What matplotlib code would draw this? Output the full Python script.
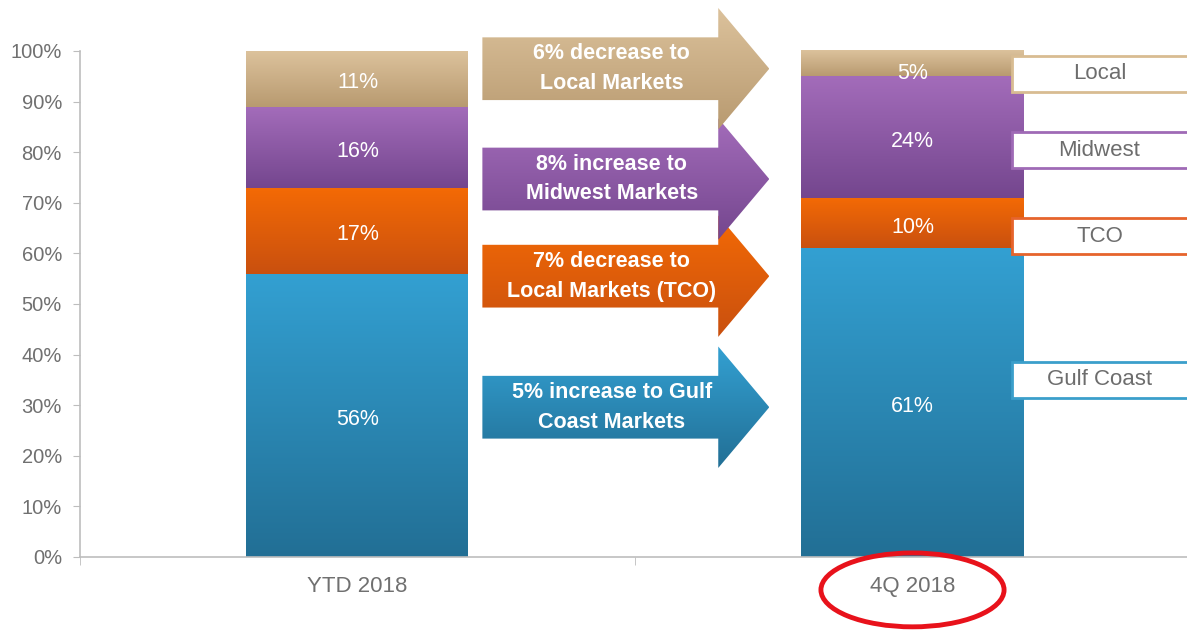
# stacked share chart: YTD 2018 vs 4Q 2018
import numpy as np
import matplotlib
matplotlib.use('Agg')
import matplotlib.pyplot as plt
from matplotlib.patches import Polygon, Rectangle, Ellipse
from matplotlib.colors import LinearSegmentedColormap

plt.rcParams['font.family'] = ['Liberation Sans', 'DejaVu Sans']

# data
periods = ['YTD 2018', '4Q 2018']
regions = ['Gulf Coast', 'TCO', 'Midwest', 'Local']
gulf = [56, 61]
tco = [17, 10]
midwest = [16, 24]
local = [11, 5]
shares = [gulf, tco, midwest, local]

arrow_text = ['5% increase to Gulf\nCoast Markets',
              '7% decrease to\nLocal Markets (TCO)',
              '8% increase to\nMidwest Markets',
              '6% decrease to\nLocal Markets']
arrow_y = [29.6, 55.5, 74.7, 96.5]      # arrow centre heights (%)
legend_y = [35.0, 63.4, 80.4, 95.5]     # label box centre heights (%)

# colours (top, bottom) of each gradient, plus border colour
grad = [('#33a0d2', '#226f95'),
        ('#f46a05', '#c9500f'),
        ('#a36cba', '#74468e'),
        ('#dcc29c', '#b89a70')]
border = ['#3b9fcb', '#e6642c', '#9f6ab6', '#d8bc92']

fig = plt.figure(figsize=(11.87, 6.3), dpi=100)
ax = fig.add_axes([80 / 1187, 1 - 557 / 630, 1110 / 1187, 506 / 630])

x = np.arange(len(periods))
width = 0.4
grad_img = np.linspace(0, 1, 256).reshape(-1, 1)


def fill_gradient(patch, top, bottom, x0, x1, y0, y1, z):
    cmap = LinearSegmentedColormap.from_list('g', [bottom, top])
    im = ax.imshow(grad_img, cmap=cmap, extent=[x0, x1, y0, y1],
                   origin='lower', aspect='auto', zorder=z)
    im.set_clip_path(patch)
    im.set_clip_box(fig.bbox)
    return im


# stacked bars with vertical gradient
bottom = np.zeros(len(periods))
for vals, (ctop, cbot) in zip(shares, grad):
    bars = ax.bar(x, vals, width, bottom=bottom, color=cbot, linewidth=0, zorder=2)
    for b in bars:
        fill_gradient(b, ctop, cbot, b.get_x(), b.get_x() + b.get_width(),
                      b.get_y(), b.get_y() + b.get_height(), 2.5)
    for xi, v, b0 in zip(x, vals, bottom):
        # small segments: the label sits a little low, as in the original
        yl = b0 + v / 2 - (2.0 if v < 8 else 0.8)
        ax.text(xi, yl, f'{v}%', ha='center', va='center',
                color='white', fontsize=15.5, zorder=4)
    bottom += np.array(vals)

# arrows between the bars
x_start, x_base, x_tip = 0.225, 0.65, 0.742
body_h, head_h = 6.2, 12.0
for yc, txt, (ctop, cbot) in zip(arrow_y, arrow_text, grad):
    pts = [(x_start, yc + body_h), (x_base, yc + body_h), (x_base, yc + head_h),
           (x_tip, yc), (x_base, yc - head_h), (x_base, yc - body_h),
           (x_start, yc - body_h)]
    poly = Polygon(pts, closed=True, facecolor='none', edgecolor='none',
                   clip_on=False, zorder=3)
    ax.add_patch(poly)
    fill_gradient(poly, ctop, cbot, x_start, x_tip, yc - head_h, yc + head_h, 3)
    ax.text(0.458, yc, txt, ha='center', va='center', color='white',
            fontsize=15.5, fontweight='bold', linespacing=1.55, zorder=5)

# label boxes on the right
for yc, name, ec in zip(legend_y, regions, border):
    ax.add_patch(Rectangle((1.18, yc - 3.6), 0.36, 7.2, facecolor='white',
                           edgecolor=ec, lw=2, clip_on=False, zorder=3))
    ax.text(1.337, yc, name, ha='center', va='center', color='#6d6d6d',
            fontsize=16, zorder=4)

# red circle around the latest quarter
ax.add_patch(Ellipse((1, -6.5), 0.33, 14.6, facecolor='none', edgecolor='#e8121b',
                     lw=3.5, clip_on=False, zorder=5))

# axes styling
ax.set_xlim(-0.5, 1.5)
ax.set_ylim(0, 100)
ax.set_yticks(range(0, 101, 10))
ax.set_yticklabels([f'{v}%' for v in range(0, 101, 10)])
ax.set_xticks(x)
ax.set_xticklabels(periods)
ax.set_xticks([-0.5, 0.5, 1.5], minor=True)
ax.tick_params(axis='x', which='major', length=0, pad=14, labelsize=16, labelcolor='#707070')
ax.tick_params(axis='x', which='minor', length=6, color='#bdbdbd')
ax.tick_params(axis='y', length=5, color='#bdbdbd', labelsize=14.5, labelcolor='#707070', pad=8)
for s in ['top', 'right']:
    ax.spines[s].set_visible(False)
for s in ['left', 'bottom']:
    ax.spines[s].set_color('#bdbdbd')
    ax.spines[s].set_linewidth(1.2)

plt.savefig('out.png', dpi=100)
